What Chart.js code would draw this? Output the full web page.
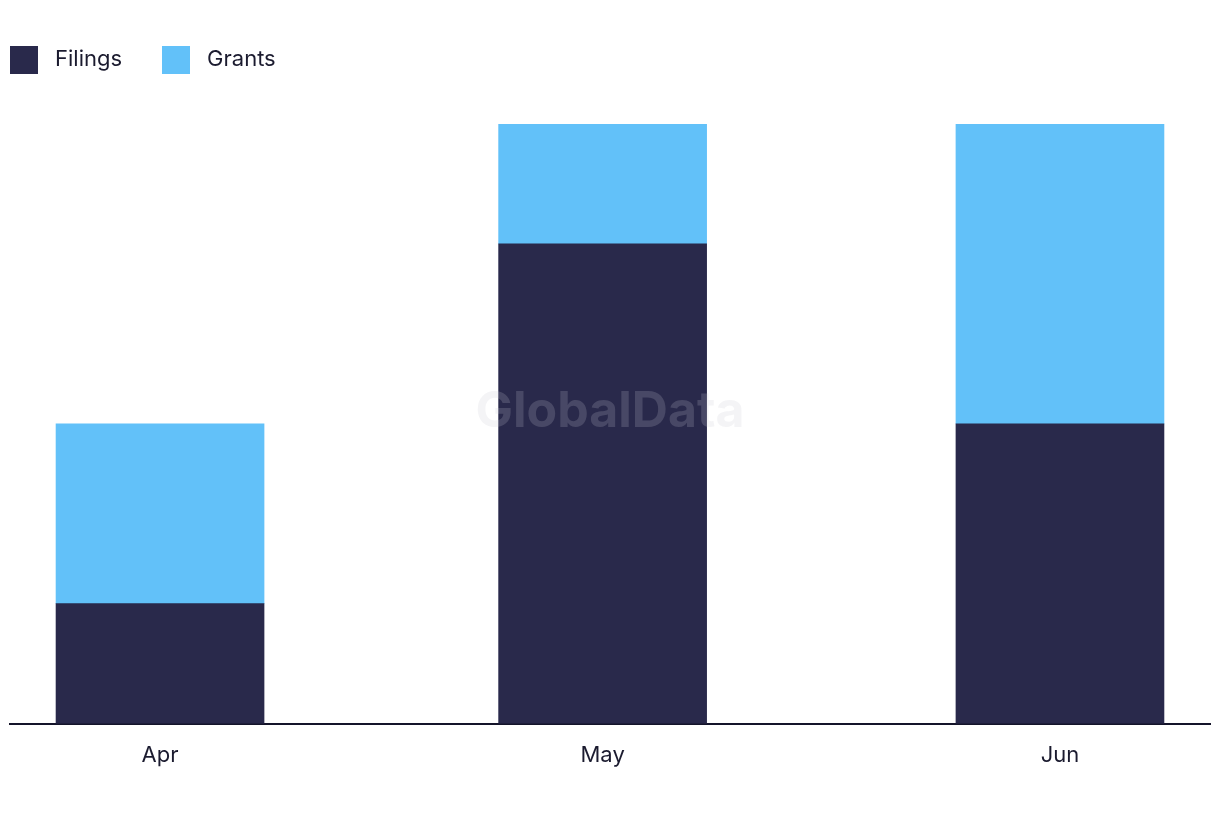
<!DOCTYPE html>
<html>
<head>
<meta charset="utf-8">
<script src="https://cdn.jsdelivr.net/npm/chart.js@4"></script>
<style>
  body { margin: 0; background: #fff; }
  .wrap { position: relative; width: 1220px; height: 822px; }
  .legend { position: absolute; top: 46px; left: 10px; display: flex; align-items: center; font-family: Inter, 'Noto Sans', sans-serif; font-size: 22px; line-height: 24px; color: #1b1b2f; }
  .legend span.box { display: inline-block; width: 28px; height: 28px; margin-right: 17px; }
  .legend span.item { display: flex; align-items: center; margin-right: 40px; }
  .legend span.name { position: relative; top: -2px; }
</style>
</head>
<body>
<div class="wrap">
  <canvas id="chart" width="1220" height="822"></canvas>
  <div class="legend"></div>
</div>
<script>
const months = ['Apr', 'May', 'Jun']
const monthDates = ['2024-04-01', '2024-05-01', '2024-06-01']
const filings = [2, 8, 5]
const grants = [3, 2, 5]

const seriesNames = ['Filings', 'Grants']
const colors = ['#29294b', '#62c1f9']

// days since first month, so bars sit like on a time axis
const day = d => (Date.parse(d) - Date.parse(monthDates[0])) / 86400000
const xs = monthDates.map(day)
const edge = 10.17

document.querySelector('.legend').innerHTML = seriesNames.map((name, i) => `
  <span class="item"><span class="box" style="background:${colors[i]}"></span><span class="name">${name}</span></span>
`).join('')

const watermark = {
  id: 'watermark',
  afterDatasetsDraw(chart) {
    const {ctx} = chart
    ctx.save()
    ctx.font = 'bold 50px Inter, "Noto Sans", sans-serif'
    ctx.fillStyle = 'rgba(200, 200, 212, 0.2)'
    ctx.textAlign = 'center'
    ctx.textBaseline = 'middle'
    ctx.fillText('GlobalData', 610, 412)
    ctx.restore()
  }
}

new Chart(document.getElementById('chart'), {
  type: 'bar',
  data: {
    datasets: [
      {label: seriesNames[0], data: xs.map((x, i) => ({x: x, y: filings[i]})), backgroundColor: colors[0]},
      {label: seriesNames[1], data: xs.map((x, i) => ({x: x, y: grants[i]})), backgroundColor: colors[1]}
    ]
  },
  options: {
    responsive: false,
    animation: false,
    barThickness: 208,
    layout: {padding: {top: 124, left: 10, right: 10, bottom: 42}},
    plugins: {legend: {display: false}, tooltip: {enabled: false}},
    scales: {
      x: {
        type: 'linear',
        stacked: true,
        offset: false,
        min: xs[0] - edge,
        max: xs[xs.length - 1] + edge,
        afterBuildTicks: axis => { axis.ticks = xs.map(v => ({value: v})) },
        grid: {display: false},
        border: {display: true, color: '#14142a', width: 2},
        ticks: {
          autoSkip: false,
          maxRotation: 0,
          padding: 11,
          color: '#1b1b2f',
          font: {family: 'Inter', size: 22},
          callback: v => months[xs.indexOf(v)]
        }
      },
      y: {
        stacked: true,
        display: false,
        min: 0,
        max: 10
      }
    }
  },
  plugins: [watermark]
})
</script>
</body>
</html>
